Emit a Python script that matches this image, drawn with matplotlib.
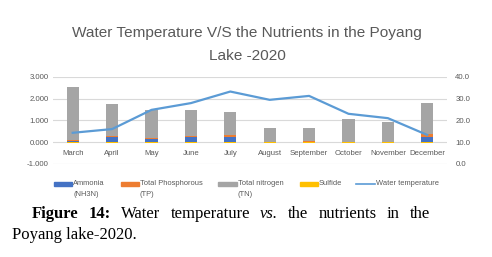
import matplotlib
matplotlib.use("Agg")
import matplotlib.pyplot as plt
import numpy as np
from matplotlib.patches import Rectangle
from matplotlib.lines import Line2D

months = ["March", "April", "May", "June", "July", "August", "September",
          "October", "November", "December"]
ammonia = [0.04, 0.23, 0.14, 0.23, 0.23, 0.01, 0.02, 0.01, 0.01, 0.26]
phosphorus = [0.06, 0.06, 0.05, 0.05, 0.08, 0.01, 0.05, 0.02, 0.01, 0.10]
nitrogen = [2.43, 1.45, 1.28, 1.20, 1.08, 0.65, 0.57, 1.04, 0.90, 1.43]
sulfide = [-0.015] * 10
water_temp = [14.3, 16.0, 24.8, 27.9, 33.2, 29.4, 31.2, 23.0, 21.0, 13.3]

left_ticks = [-1.0, 0.0, 1.0, 2.0, 3.0]
right_ticks = [0, 10, 20, 30, 40]

C_BLUE = "#4472c4"
C_ORANGE = "#ed7d31"
C_GRAY = "#a5a5a5"
C_YELLOW = "#ffc000"
C_LINE = "#5b9bd5"
TXT = "#595959"
FONT = "Liberation Sans"

W, H = 492, 257
fig = plt.figure(figsize=(W / 100, H / 100), dpi=100)
fig.patch.set_facecolor("white")

x0, x1, ytop, ybot = 53, 447, 76.7, 164
ax = fig.add_axes([x0 / W, 1 - ybot / H, (x1 - x0) / W, (ybot - ytop) / H])
x = np.arange(len(months))
bw = 0.313

a = np.array(ammonia)
p = np.array(phosphorus)
n = np.array(nitrogen)
ax.bar(x, a, bw, color=C_BLUE, zorder=2)
ax.bar(x, p, bw, bottom=a, color=C_ORANGE, zorder=2)
ax.bar(x, n, bw, bottom=a + p, color=C_GRAY, zorder=2)
ax.bar(x, sulfide, bw, color=C_YELLOW, zorder=2)

ax.set_xlim(-0.5, len(months) - 0.5)
ax.set_ylim(-1, 3)
ax.set_yticks(left_ticks)
ax.set_yticklabels([f"{v:.3f}" for v in left_ticks])
ax.set_xticks([])
ax.grid(axis="y", color="#d9d9d9", lw=0.8, zorder=0)
for s in ax.spines.values():
    s.set_visible(False)
ax.tick_params(length=0, labelsize=5.6, labelcolor=TXT, pad=3)
for t in ax.get_yticklabels():
    t.set_fontfamily(FONT)
# category labels sit just under the zero line
for xi, m in zip(x, months):
    ax.text(xi, -0.52, m, ha="center", va="center", fontsize=5.6,
            color=TXT, family=FONT)

ax2 = ax.twinx()
ax2.plot(x, water_temp, color=C_LINE, lw=1.6, zorder=3)
ax2.set_ylim(0, 40)
ax2.set_yticks(right_ticks)
ax2.set_yticklabels([f"{v:.1f}" for v in right_ticks])
for s in ax2.spines.values():
    s.set_visible(False)
ax2.tick_params(length=0, labelsize=5.6, labelcolor=TXT, pad=6)
for t in ax2.get_yticklabels():
    t.set_fontfamily(FONT)

# Title
fig.text(247 / W, 1 - 33 / H, "Water Temperature V/S the Nutrients in the Poyang",
         ha="center", va="center", fontsize=11.1, color=TXT, family=FONT)
fig.text(247 / W, 1 - 56 / H, "Lake -2020",
         ha="center", va="center", fontsize=11.1, color=TXT, family=FONT)

# Legend (manual)
def legend_patch(xa, xb, color, label):
    fig.patches.append(Rectangle((xa / W, 1 - 185.5 / H), (xb - xa) / W, 3.5 / H,
                                 transform=fig.transFigure, color=color))
    parts = label.split("\n")
    fig.text((xb + 1) / W, 1 - 183.5 / H, parts[0], ha="left", va="center",
             fontsize=5.4, color=TXT, family=FONT)
    if len(parts) > 1:
        fig.text((xb + 1) / W, 1 - 194 / H, parts[1], ha="left", va="center",
                 fontsize=5.4, color=TXT, family=FONT)

legend_patch(54, 72, C_BLUE, "Ammonia\n(NH3N)")
legend_patch(121, 139, C_ORANGE, "Total Phosphorous\n(TP)")
legend_patch(218, 237, C_GRAY, "Total nitrogen\n(TN)")
legend_patch(300, 318, C_YELLOW, "Sulfide")
fig.lines.append(Line2D([356 / W, 375 / W], [1 - 183.7 / H, 1 - 183.7 / H],
                        transform=fig.transFigure, color=C_LINE, lw=1.2))
fig.text(376 / W, 1 - 183.5 / H, "Water temperature", ha="left", va="center",
         fontsize=5.4, color=TXT, family=FONT)

# Caption (justified first line)
SERIF = "Liberation Serif"
fs = 12
words = [("Figure", "bold", "normal"), ("14:", "bold", "normal"),
         ("Water", "normal", "normal"), ("temperature", "normal", "normal"),
         ("vs.", "normal", "italic"), ("the", "normal", "normal"),
         ("nutrients", "normal", "normal"), ("in", "normal", "normal"),
         ("the", "normal", "normal")]
cap_y1 = 1 - 218 / H
cap_y2 = 1 - 239 / H
fig.canvas.draw()
renderer = fig.canvas.get_renderer()
texts = []
widths = []
for w, wt, st in words:
    t = fig.text(0, cap_y1, w, fontsize=fs, family=SERIF, weight=wt, style=st,
                 color="black", va="baseline", ha="left")
    texts.append(t)
    widths.append(t.get_window_extent(renderer).width)
start, end = 32, 430
gap = (end - start - sum(widths)) / (len(words) - 1)
cx = start
for t, wd in zip(texts, widths):
    t.set_x(cx / W)
    cx += wd + gap
fig.text(12 / W, cap_y2, "Poyang lake-2020.", fontsize=fs, family=SERIF,
         color="black", va="baseline", ha="left")

fig.savefig("out.png", dpi=100, facecolor="white")
